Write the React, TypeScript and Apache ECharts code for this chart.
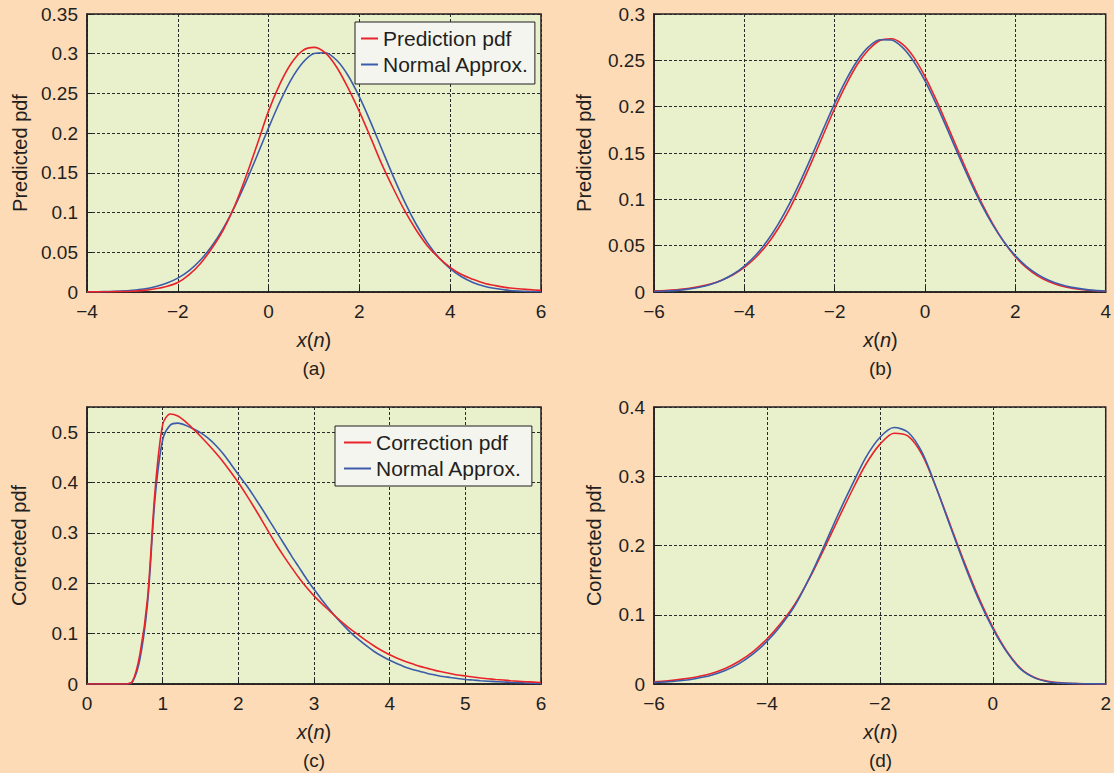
import React, { useEffect, useRef } from "react";
import * as echarts from "echarts";

// ---------- data ----------
// (a) Predicted pdf, x from -4 to 6 in steps of 0.25
const xA = [-4, -3.75, -3.5, -3.25, -3, -2.75, -2.5, -2.25, -2, -1.75, -1.5, -1.25, -1, -0.75, -0.5, -0.25, 0, 0.25, 0.5, 0.75, 1, 1.25, 1.5, 1.75, 2, 2.25, 2.5, 2.75, 3, 3.25, 3.5, 3.75, 4, 4.25, 4.5, 4.75, 5, 5.25, 5.5, 5.75, 6];
const predA = [0.0001, 0.0002, 0.0003, 0.0006, 0.001, 0.002, 0.004, 0.007, 0.012, 0.022, 0.036, 0.055, 0.078, 0.108, 0.145, 0.186, 0.228, 0.262, 0.288, 0.304, 0.308, 0.301, 0.283, 0.257, 0.227, 0.194, 0.16, 0.13, 0.102, 0.078, 0.058, 0.043, 0.031, 0.022, 0.016, 0.011, 0.008, 0.0055, 0.004, 0.003, 0.002];
const normA = [0.00015, 0.0003, 0.0006, 0.0012, 0.0022, 0.0038, 0.0066, 0.011, 0.0175, 0.027, 0.0403, 0.0579, 0.0802, 0.1073, 0.1384, 0.1722, 0.2068, 0.2395, 0.2677, 0.2886, 0.3003, 0.3013, 0.2917, 0.2726, 0.2456, 0.2136, 0.1791, 0.145, 0.1132, 0.0853, 0.0619, 0.0434, 0.0294, 0.0192, 0.0121, 0.0073, 0.0043, 0.0024, 0.0013, 0.0007, 0.0004];

// (b) Predicted pdf, x from -6 to 4 in steps of 0.25
const xB = [-6, -5.75, -5.5, -5.25, -5, -4.75, -4.5, -4.25, -4, -3.75, -3.5, -3.25, -3, -2.75, -2.5, -2.25, -2, -1.75, -1.5, -1.25, -1, -0.75, -0.5, -0.25, 0, 0.25, 0.5, 0.75, 1, 1.25, 1.5, 1.75, 2, 2.25, 2.5, 2.75, 3, 3.25, 3.5, 3.75, 4];
const predB = [0.0012, 0.0017, 0.0025, 0.0038, 0.0058, 0.0087, 0.0128, 0.0186, 0.0265, 0.0372, 0.051, 0.0685, 0.0895, 0.1145, 0.1415, 0.17, 0.198, 0.2235, 0.2455, 0.2615, 0.2715, 0.2733, 0.2675, 0.2535, 0.2325, 0.207, 0.179, 0.1505, 0.1225, 0.0965, 0.0735, 0.0538, 0.038, 0.026, 0.0172, 0.011, 0.0068, 0.0041, 0.0024, 0.0014, 0.0008];
const normB = [0.0006, 0.0011, 0.0018, 0.0031, 0.0051, 0.0082, 0.0127, 0.0191, 0.028, 0.0397, 0.0547, 0.0733, 0.0953, 0.1204, 0.1477, 0.176, 0.2036, 0.2287, 0.2496, 0.2645, 0.2722, 0.272, 0.264, 0.2488, 0.2278, 0.2025, 0.1748, 0.1466, 0.1194, 0.0944, 0.0725, 0.054, 0.039, 0.0275, 0.0188, 0.0125, 0.008, 0.005, 0.0031, 0.0018, 0.001];

// (c) Corrected pdf, x from 0 to 6 in steps of 0.1
const xC = [0, 0.1, 0.2, 0.3, 0.4, 0.5, 0.6, 0.7, 0.8, 0.9, 1, 1.1, 1.2, 1.3, 1.4, 1.5, 1.6, 1.7, 1.8, 1.9, 2, 2.1, 2.2, 2.3, 2.4, 2.5, 2.6, 2.7, 2.8, 2.9, 3, 3.1, 3.2, 3.3, 3.4, 3.5, 3.6, 3.7, 3.8, 3.9, 4, 4.1, 4.2, 4.3, 4.4, 4.5, 4.6, 4.7, 4.8, 4.9, 5, 5.1, 5.2, 5.3, 5.4, 5.5, 5.6, 5.7, 5.8, 5.9, 6];
const corrC = [0, 0, 0, 0, 0, 0, 0.005, 0.06, 0.17, 0.385, 0.515, 0.536, 0.532, 0.521, 0.507, 0.492, 0.476, 0.459, 0.441, 0.421, 0.4, 0.377, 0.353, 0.328, 0.302, 0.277, 0.254, 0.232, 0.211, 0.192, 0.175, 0.16, 0.146, 0.132, 0.119, 0.107, 0.096, 0.085, 0.075, 0.066, 0.058, 0.051, 0.045, 0.04, 0.035, 0.031, 0.027, 0.024, 0.021, 0.018, 0.016, 0.014, 0.012, 0.0105, 0.009, 0.0078, 0.0066, 0.0056, 0.0046, 0.0038, 0.003];
const normC = [0, 0, 0, 0, 0, 0, 0.004, 0.05, 0.16, 0.37, 0.485, 0.514, 0.518, 0.514, 0.507, 0.499, 0.488, 0.474, 0.457, 0.437, 0.416, 0.396, 0.374, 0.351, 0.327, 0.303, 0.279, 0.255, 0.232, 0.209, 0.188, 0.168, 0.149, 0.131, 0.115, 0.1, 0.087, 0.075, 0.064, 0.055, 0.047, 0.04, 0.034, 0.029, 0.025, 0.021, 0.018, 0.015, 0.013, 0.011, 0.009, 0.0078, 0.0066, 0.0056, 0.0047, 0.004, 0.0033, 0.0027, 0.0021, 0.0015, 0.001];

// (d) Corrected pdf, x from -6 to 2 in steps of 0.25
const xD = [-6, -5.75, -5.5, -5.25, -5, -4.75, -4.5, -4.25, -4, -3.75, -3.5, -3.25, -3, -2.75, -2.5, -2.25, -2, -1.75, -1.5, -1.25, -1, -0.75, -0.5, -0.25, 0, 0.25, 0.5, 0.75, 1, 1.25, 1.5, 1.75, 2];
const corrD = [0.003, 0.0045, 0.007, 0.0102, 0.0148, 0.022, 0.0325, 0.0465, 0.065, 0.088, 0.116, 0.152, 0.193, 0.236, 0.278, 0.317, 0.346, 0.3622, 0.358, 0.331, 0.283, 0.229, 0.175, 0.125, 0.082, 0.047, 0.022, 0.009, 0.0035, 0.0015, 0.0006, 0.0003, 0.0001];
const normD = [0.002, 0.0032, 0.005, 0.008, 0.0122, 0.019, 0.029, 0.043, 0.0615, 0.085, 0.114, 0.153, 0.197, 0.243, 0.286, 0.327, 0.356, 0.3703, 0.3635, 0.334, 0.283, 0.227, 0.172, 0.122, 0.08, 0.046, 0.021, 0.0085, 0.003, 0.0012, 0.0005, 0.0002, 0.0001];

const xRanges = [
  { min: -4, max: 6, interval: 2 },
  { min: -6, max: 4, interval: 2 },
  { min: 0, max: 6, interval: 1 },
  { min: -6, max: 2, interval: 2 },
];
const yRanges = [
  { min: 0, max: 0.35, interval: 0.05 },
  { min: 0, max: 0.3, interval: 0.05 },
  { min: 0, max: 0.55, interval: 0.1 },
  { min: 0, max: 0.4, interval: 0.1 },
];
const yNames = ["Predicted pdf", "Predicted pdf", "Corrected pdf", "Corrected pdf"];
const panelLabels = ["(a)", "(b)", "(c)", "(d)"];

// ---------- styles ----------
const FONT = '"Liberation Sans", Arial, Helvetica, sans-serif';
const TEXT = "#231F20";
const PAGE_BG = "#FDDBB7";
const PLOT_BG = "#E8F0CC";
const RED = "#E8232B";
const BLUE = "#3C5BAA";

const grids = [
  { left: 87, top: 14, width: 454, height: 278 },
  { left: 654, top: 14, width: 453, height: 278 },
  { left: 87, top: 407, width: 454, height: 277 },
  { left: 654, top: 407, width: 453, height: 277 },
];

const fmtNum = (v: number) => {
  const r = Math.round(v * 1000) / 1000;
  return String(r).replace("-", "\u2212");
};

function buildOption() {
  const axisLine = { show: true, onZero: false, lineStyle: { color: TEXT, width: 1.5 } };
  const axisTick = { show: true, inside: true, length: 5, lineStyle: { color: TEXT, width: 1 } };
  const splitLine = { show: true, lineStyle: { color: "#2a2a2a", width: 1, type: [3, 2] } };

  const xAxis = xRanges.map((r, i) => ({
    type: "value",
    gridIndex: i,
    min: r.min,
    max: r.max,
    interval: r.interval,
    axisLine,
    axisTick,
    splitLine,
    axisLabel: { fontFamily: FONT, fontSize: 19, color: TEXT, margin: 10, formatter: fmtNum },
  }));
  const yAxis = yRanges.map((r, i) => ({
    type: "value",
    gridIndex: i,
    min: r.min,
    max: r.max,
    interval: r.interval,
    axisLine,
    axisTick,
    splitLine,
    axisLabel: {
      fontFamily: FONT,
      fontSize: 19,
      color: TEXT,
      margin: 9,
      showMaxLabel: i === 2 ? false : true,
      formatter: fmtNum,
    },
  }));

  const pair = (xs: number[], ys: number[]) => xs.map((x, k) => [x, ys[k]]);
  const lineSeries = (name: string, idx: number, xs: number[], ys: number[], color: string, z: number) => ({
    type: "line",
    name,
    xAxisIndex: idx,
    yAxisIndex: idx,
    data: pair(xs, ys),
    showSymbol: false,
    symbol: "none",
    smooth: 0.3,
    lineStyle: { color, width: 1.6 },
    itemStyle: { color },
    z,
  });

  const series = [
    lineSeries("Normal Approx.", 0, xA, normA, BLUE, 2),
    lineSeries("Prediction pdf", 0, xA, predA, RED, 3),
    lineSeries("Prediction pdf", 1, xB, predB, RED, 2),
    lineSeries("Normal Approx.", 1, xB, normB, BLUE, 3),
    lineSeries("Normal Approx.", 2, xC, normC, BLUE, 2),
    lineSeries("Correction pdf", 2, xC, corrC, RED, 3),
    lineSeries("Correction pdf", 3, xD, corrD, RED, 2),
    lineSeries("Normal Approx.", 3, xD, normD, BLUE, 3),
  ];

  const legendBase = {
    orient: "vertical",
    backgroundColor: "#F5F5EF",
    borderColor: TEXT,
    borderWidth: 1,
    borderRadius: 0,
    icon: "rect",
    itemHeight: 2,
    textStyle: { fontFamily: FONT, fontSize: 21, color: TEXT },
    selectedMode: false,
  };
  const legend = [
    {
      ...legendBase,
      left: 355,
      top: 22,
      padding: [6, 6, 9, 6],
      itemGap: 5,
      itemWidth: 17,
      data: ["Prediction pdf", "Normal Approx."],
    },
    {
      ...legendBase,
      left: 335,
      top: 426,
      padding: [6, 10, 7, 9],
      itemGap: 5,
      itemWidth: 27,
      data: ["Correction pdf", "Normal Approx."],
    },
  ];

  const graphic: any[] = [];
  grids.forEach((g, i) => {
    const cx = g.left + g.width / 2;
    const bottom = g.top + g.height;
    const cy = g.top + g.height / 2;
    const nameX = i === 0 ? 20 : i === 1 ? 584 : i === 2 ? 19 : 594;
    graphic.push({
      type: "text",
      x: nameX,
      y: cy,
      rotation: Math.PI / 2,
      style: {
        text: yNames[i],
        fontFamily: FONT,
        fontSize: 20,
        fill: TEXT,
        align: "center",
        verticalAlign: "middle",
        textAlign: "center",
        textVerticalAlign: "middle",
      },
    });
    graphic.push({
      type: "text",
      x: cx,
      y: bottom + 48,
      style: {
        text: "{i|x}({i|n})",
        fontFamily: FONT,
        fontSize: 20,
        fill: TEXT,
        align: "center",
        verticalAlign: "middle",
        textAlign: "center",
        textVerticalAlign: "middle",
        rich: {
          i: { fontStyle: "italic", fontFamily: FONT, fontSize: 20, fill: TEXT },
        },
      },
    });
    graphic.push({
      type: "text",
      x: cx,
      y: bottom + 76,
      style: {
        text: panelLabels[i],
        fontFamily: FONT,
        fontSize: 19,
        fill: TEXT,
        align: "center",
        verticalAlign: "middle",
        textAlign: "center",
        textVerticalAlign: "middle",
      },
    });
  });

  return {
    animation: false,
    backgroundColor: PAGE_BG,
    grid: grids.map((g) => ({
      ...g,
      show: true,
      backgroundColor: PLOT_BG,
      borderColor: TEXT,
      borderWidth: 1.5,
      containLabel: false,
    })),
    xAxis,
    yAxis,
    legend,
    series,
    graphic,
  };
}

export default function App() {
  const ref = useRef<HTMLDivElement>(null);
  useEffect(() => {
    if (!ref.current) return;
    const chart = echarts.init(ref.current, undefined, { renderer: "svg" });
    chart.setOption(buildOption() as any);
    return () => chart.dispose();
  }, []);
  return (
    <div
      ref={ref}
      style={{ position: "absolute", left: 0, top: 0, width: 1114, height: 773 }}
    />
  );
}
